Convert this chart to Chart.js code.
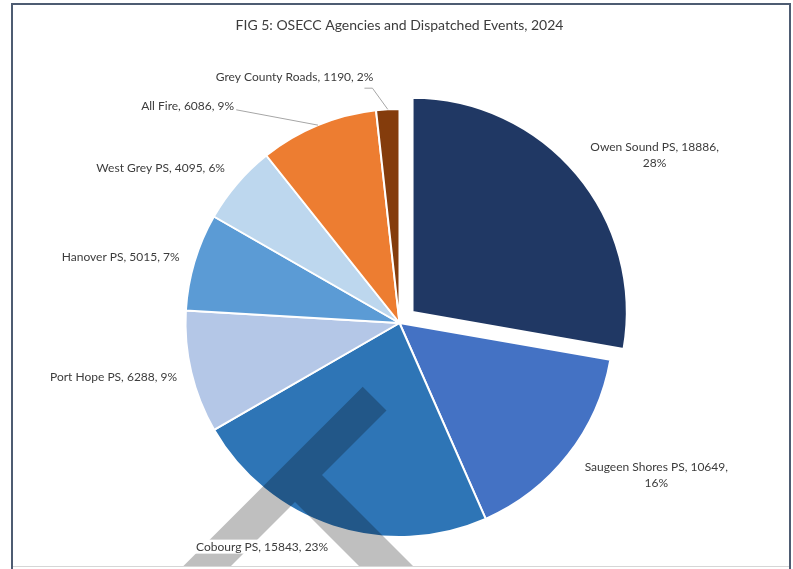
<!DOCTYPE html>
<html>
<head>
<meta charset="utf-8">
<script src="https://cdn.jsdelivr.net/npm/chart.js@4.4.1/dist/chart.umd.min.js"></script>
<style>
html,body{margin:0;padding:0;background:#fff;overflow:hidden;width:793px;height:569px;}
#wrap{position:relative;width:793px;height:569px;overflow:hidden;}
#chart{position:absolute;left:0;top:0;}
#frame{position:absolute;left:11px;top:3px;width:780px;height:700px;border:2px solid #4e5c72;box-sizing:border-box;pointer-events:none;}
#pageedge{position:absolute;left:13px;top:566px;width:776px;height:3px;background:#fff;border-top:1px solid #d6d6d6;}
</style>
</head>
<body>
<div id="wrap">
  <canvas id="chart" width="793" height="646"></canvas>
  <div id="pageedge"></div>
  <div id="frame"></div>
</div>
<script>
// ---- data ----
const chartTitle = 'FIG 5: OSECC Agencies and Dispatched Events, 2024';
const categories = ['Owen Sound PS', 'Saugeen Shores PS', 'Cobourg PS', 'Port Hope PS', 'Hanover PS', 'West Grey PS', 'All Fire', 'Grey County Roads'];
const events = [18886, 10649, 15843, 6288, 5015, 4095, 6086, 1190];

// ---- style ----
const sliceColors = ['#203864', '#4472C4', '#2E75B6', '#B4C7E7', '#5B9BD5', '#BDD7EE', '#ED7D31', '#843C0C'];
const sliceOffsets = [68, 0, 0, 0, 0, 0, 0, 0];
// label centres relative to pie centre, in units of the radius
const labelPos = [[1.192, -0.785], [1.2, 0.711], [-0.642, 1.045], [-1.336, 0.251], [-1.303, -0.31], [-1.116, -0.726], [-0.99, -1.015], [-0.49, -1.151]];
const labelWrap = [true, true, false, false, false, false, false, false];
const leaderKind = [null, null, null, null, null, null, 'side', 'elbow'];
const textColor = '#3c3c3c';
const labelFont = '12px Lato';

const total = events.reduce((a, b) => a + b, 0);
const pct = events.map(v => Math.round(v / total * 100) + '%');

const labelPlugin = {
  id: 'pieLabels',
  afterDatasetsDraw(chart) {
    const ctx = chart.ctx;
    const meta = chart.getDatasetMeta(0);
    const arcs = meta.data;
    const cx = arcs[1].x, cy = arcs[1].y, r = arcs[1].outerRadius;

    // watermark overlay (decorative)
    ctx.save();
    ctx.fillStyle = 'rgba(0,0,0,0.25)';
    ctx.beginPath();
    ctx.moveTo(362.7, 386.7); ctx.lineTo(386.5, 410.5); ctx.lineTo(196.5, 600.5); ctx.lineTo(149.4, 600);
    ctx.closePath();
    ctx.moveTo(322, 475); ctx.lineTo(460, 613); ctx.lineTo(433, 640); ctx.lineTo(295, 502);
    ctx.closePath();
    ctx.fill('nonzero');
    ctx.restore();

    ctx.save();
    ctx.font = labelFont;
    ctx.textAlign = 'center';
    ctx.textBaseline = 'middle';
    const lh = 16;
    arcs.forEach((arc, i) => {
      const lx = cx + labelPos[i][0] * r;
      const ly = cy + labelPos[i][1] * r;
      const lines = labelWrap[i]
        ? [categories[i] + ', ' + events[i] + ',', pct[i]]
        : [categories[i] + ', ' + events[i] + ', ' + pct[i]];
      const w = Math.max(...lines.map(t => ctx.measureText(t).width));
      const h = lines.length * lh;
      const top = ly - h / 2;
      // leader line
      const mid = (arc.startAngle + arc.endAngle) / 2;
      const ax = cx + Math.cos(mid) * r, ay = cy + Math.sin(mid) * r;
      ctx.strokeStyle = '#a6a6a6';
      ctx.lineWidth = 1;
      if (leaderKind[i] === 'side') {
        ctx.beginPath();
        ctx.moveTo(lx + w / 2 + 2, ly + 4);
        ctx.lineTo(ax, ay);
        ctx.stroke();
      } else if (leaderKind[i] === 'elbow') {
        ctx.beginPath();
        ctx.moveTo(lx + w / 2 - 9, ly + 11.5);
        ctx.lineTo(lx + w / 2 - 1, ly + 11.5);
        ctx.lineTo(ax, ay);
        ctx.stroke();
      }
      ctx.fillStyle = '#ffffff';
      ctx.fillRect(lx - w / 2 - 2, top + 1, w + 4, h - 2);
      ctx.fillStyle = textColor;
      lines.forEach((t, k) => ctx.fillText(t, lx, top + lh / 2 + k * lh));
    });
    ctx.restore();
  }
};

new Chart(document.getElementById('chart'), {
  type: 'pie',
  data: {
    labels: categories,
    datasets: [{
      data: events,
      backgroundColor: sliceColors,
      borderColor: '#ffffff',
      borderWidth: 2,
      offset: sliceOffsets,
      radius: 214
    }]
  },
  options: {
    responsive: false,
    animation: false,
    layout: { padding: { left: 6, right: 0, top: 0, bottom: 34 } },
    plugins: {
      legend: { display: false },
      tooltip: { enabled: false },
      title: {
        display: true,
        text: chartTitle,
        color: textColor,
        font: { family: 'Lato', size: 14, weight: 'normal', lineHeight: 1.2 },
        padding: { top: 17, bottom: 0.2 }
      }
    }
  },
  plugins: [labelPlugin]
});
</script>
</body>
</html>
